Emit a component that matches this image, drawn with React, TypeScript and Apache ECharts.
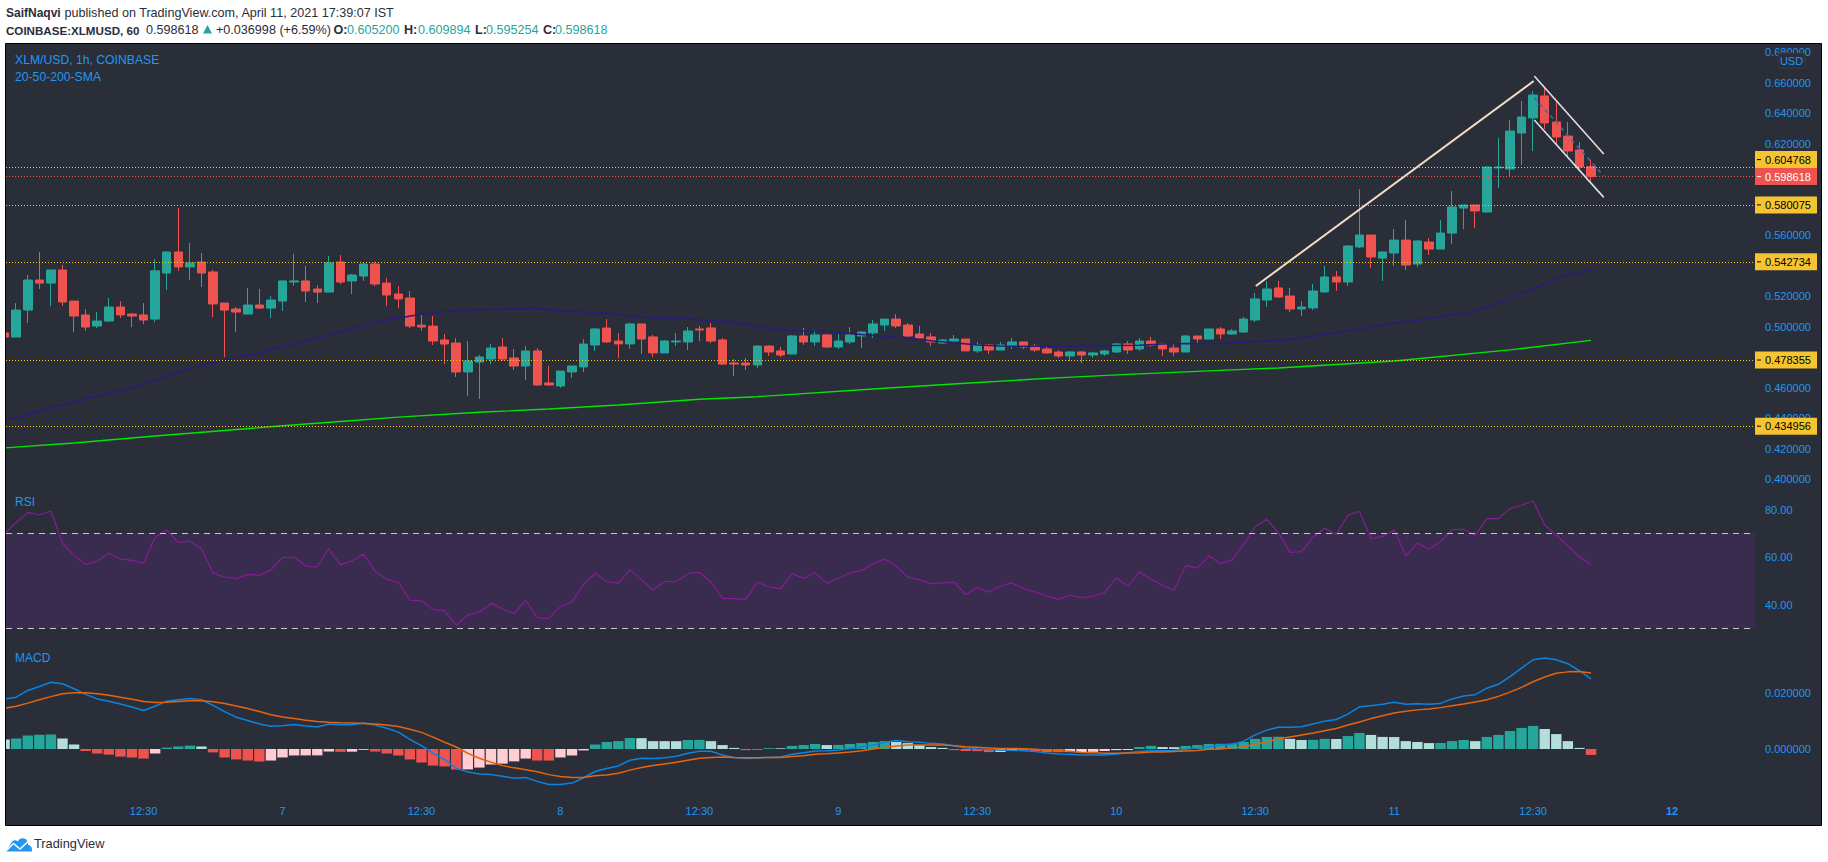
import React, { useEffect, useRef } from "react";
import * as echarts from "echarts";

// [open, close, low, high], one row per hourly bar
const candles = [
[.4961,.4934,.4934,.4961],[.4934,.5111,.4934,.5157],[.5111,.5308,.5026,.5341],[.5308,.5288,.5249,.5492],[.5288,.5374,.5138,.5374],
[.5374,.5164,.5138,.5407],[.5170,.5072,.4967,.5170],[.5079,.5000,.4974,.5118],[.5006,.5039,.4993,.5098],[.5039,.5131,.5033,.5190],
[.5131,.5079,.5059,.5170],[.5085,.5072,.5000,.5092],[.5079,.5046,.5019,.5157],[.5052,.5368,.5033,.5446],[.5354,.5492,.5243,.5498],
[.5492,.5394,.5368,.5780],[.5394,.5420,.5308,.5551],[.5426,.5354,.5262,.5485],[.5361,.5151,.5065,.5374],[.5157,.5111,.4803,.5157],
[.5118,.5098,.4967,.5131],[.5085,.5144,.5085,.5256],[.5144,.5124,.5118,.5249],[.5124,.5177,.5059,.5203],[.5170,.5302,.5105,.5302],
[.5295,.5302,.5269,.5479],[.5302,.5236,.5164,.5400],[.5249,.5229,.5157,.5275],[.5229,.5420,.5229,.5466],[.5426,.5295,.5282,.5472],
[.5302,.5341,.5216,.5347],[.5334,.5413,.5302,.5426],[.5413,.5282,.5269,.5426],[.5288,.5210,.5138,.5321],[.5216,.5184,.5124,.5269],
[.5190,.5006,.4993,.5236],[.5012,.5000,.4974,.5085],[.5006,.4908,.4882,.5072],[.4915,.4888,.4757,.4954],[.4895,.4705,.4672,.4928],
[.4705,.4777,.4547,.4908],[.4770,.4803,.4528,.4816],[.4790,.4862,.4757,.4888],[.4869,.4790,.4777,.4928],[.4797,.4744,.4718,.4856],
[.4744,.4843,.4652,.4875],[.4843,.4620,.4613,.4862],[.4633,.4620,.4613,.4744],[.4613,.4711,.4600,.4711],[.4705,.4744,.4666,.4744],
[.4738,.4888,.4705,.4921],[.4882,.4987,.4843,.4993],[.4993,.4902,.4895,.5052],[.4908,.4889,.4797,.4961],[.4889,.5020,.4856,.5026],
[.5020,.4921,.4823,.5020],[.4935,.4830,.4803,.4948],[.4830,.4908,.4830,.4915],[.4902,.4908,.4875,.4961],[.4902,.4974,.4849,.5000],
[.4987,.4980,.4908,.5007],[.4994,.4908,.4895,.5026],[.4915,.4757,.4751,.4928],[.4764,.4757,.4679,.4790],[.4764,.4751,.4718,.4797],
[.4751,.4875,.4731,.4882],[.4875,.4836,.4810,.4882],[.4843,.4816,.4803,.4869],[.4823,.4941,.4823,.4948],[.4941,.4902,.4882,.4994],
[.4902,.4948,.4875,.4980],[.4948,.4869,.4862,.4954],[.4869,.4908,.4856,.4954],[.4902,.4948,.4889,.5000],[.4941,.4967,.4862,.4974],
[.4961,.5020,.4928,.5046],[.5013,.5052,.4974,.5052],[.5052,.5007,.4994,.5085],[.5013,.4941,.4928,.5026],[.4954,.4928,.4921,.5007],
[.4935,.4902,.4875,.4961],[.4895,.4915,.4889,.4921],[.4908,.4921,.4902,.4948],[.4921,.4843,.4843,.4921],[.4843,.4882,.4830,.4902],
[.4882,.4849,.4823,.4889],[.4849,.4882,.4849,.4902],[.4875,.4902,.4856,.4928],[.4902,.4869,.4856,.4902],[.4875,.4849,.4836,.4889],
[.4856,.4830,.4823,.4869],[.4836,.4810,.4797,.4849],[.4810,.4836,.4777,.4843],[.4836,.4816,.4764,.4843],[.4816,.4830,.4797,.4836],
[.4823,.4843,.4810,.4849],[.4836,.4889,.4830,.4895],[.4889,.4849,.4823,.4908],[.4856,.4908,.4843,.4928],[.4908,.4882,.4869,.4935],
[.4889,.4856,.4810,.4889],[.4862,.4836,.4810,.4889],[.4836,.4941,.4836,.4948],[.4941,.4921,.4889,.4941],[.4921,.4987,.4921,.4987],
[.4987,.4954,.4921,.5000],[.4954,.4974,.4948,.4987],[.4967,.5052,.4961,.5065],[.5046,.5184,.5033,.5223],[.5177,.5249,.5131,.5302],
[.5256,.5197,.5190,.5302],[.5203,.5118,.5098,.5256],[.5118,.5131,.5072,.5170],[.5125,.5236,.5111,.5282],[.5230,.5328,.5223,.5400],
[.5328,.5295,.5236,.5367],[.5295,.5531,.5269,.5538],[.5525,.5603,.5518,.5905],[.5603,.5459,.5387,.5603],[.5452,.5492,.5302,.5492],
[.5485,.5570,.5400,.5643],[.5570,.5406,.5374,.5702],[.5413,.5564,.5393,.5570],[.5557,.5511,.5472,.5583],[.5511,.5616,.5511,.5702],
[.5616,.5787,.5544,.5892],[.5780,.5800,.5643,.5800],[.5800,.5761,.5649,.5800],[.5754,.6049,.5754,.6056],[.6043,.6049,.5911,.6239],
[.6036,.6285,.5990,.6357],[.6272,.6377,.6062,.6482],[.6371,.6521,.6154,.6547],[.6515,.6338,.6298,.6567],[.6344,.6246,.6200,.6475],
[.6252,.6154,.6108,.6344],[.6161,.6049,.6036,.6213],[.6052,.598618,.5953,.6099],
];

// [bar, value] readings of the moving averages
const sma50 = [[0,.4390],[2,.4423],[4,.4471],[6,.4510],[8,.4548],[10,.4583],[12,.4624],[14,.4679],[16,.4727],[18,.4766],[20,.4799],[22,.4829],[24,.4869],[26,.4908],[28,.4950],[30,.4987],[32,.5035],[34,.5059],[36,.5083],[38,.5100],[40,.5111],[42,.5116],[44,.5118],[46,.5122],[48,.5107],[50,.5098],[52,.5092],[54,.5072],[56,.5057],[58,.5055],[60,.5048],[62,.5042],[64,.5018],[66,.4994],[68,.4976],[70,.4972],[72,.4965],[74,.4950],[76,.4939],[78,.4928],[80,.4910],[82,.4897],[84,.4882],[86,.4875],[88,.4873],[90,.4873],[92,.4873],[94,.4875],[96,.4878],[98,.4880],[100,.4889],[102,.4891],[104,.4889],[106,.4897],[108,.4904],[110.6,.4915],[115,.4963],[119,.5013],[122,.5044],[126.4,.5096],[129.4,.5166],[131.7,.5243],[135,.5341],[137,.5374]];
const sma200 = [[0,.4207],[6,.4239],[13,.4285],[24,.4352],[29,.4380],[34,.4409],[41,.4441],[47,.4462],[53,.4488],[60,.4526],[65,.4543],[76,.4598],[83,.4631],[90,.4663],[97,.4689],[107,.4722],[110,.4731],[120,.4777],[130,.4850],[137,.4912]];

// Hand-drawn lines
const riseTrend = [[108.05,.5269],[132.05,.6613]];
const channelTop = [[132.1,.6646],[138.1,.6134]];
const channelBottom = [[132.1,.6357],[138.1,.5850]];
const channelMiddle = [[132.1,.6504],[138.1,.5990]];

const lastPrice = 0.598618;
const supportLevels = [0.604768, 0.580075, 0.542734, 0.478355, 0.434956];
const priceTicks = [.68,.66,.64,.62,.56,.52,.50,.46,.44,.42,.40];

const rsi = [70,74.5,78.8,77.7,79.4,65.8,60.7,56.9,58.2,61.6,59.1,58.6,57.4,68.3,71.4,66.1,66.8,63.4,53.3,51.6,50.9,52.7,52.3,54.6,59.8,59.9,56.2,55.8,63.5,56.7,58.4,61.2,54.0,50.6,49.4,41.8,41.6,37.9,37.3,31.3,35.5,36.9,40.5,38.1,36.3,41.8,34.4,34.2,39.1,41.1,48.5,53.2,49.6,49.0,54.6,50.4,46.1,49.8,49.6,53.0,53.6,49.5,42.6,42.5,42.2,49.4,47.5,46.6,53.0,51.1,53.4,48.9,51.1,53.3,54.3,57.2,59.1,56.2,51.6,50.5,48.8,49.1,49.5,44.2,47.1,45.2,47.8,49.1,46.7,45.3,43.6,42.2,44.0,42.9,43.5,45.0,51.2,47.7,53.7,50.8,48.1,46.0,56.5,55.3,60.5,57.2,58.8,65.5,72.8,75.9,70.3,62.0,62.3,68.3,72.1,69.6,77.6,79.3,67.8,68.7,71.4,60.5,65.9,63.3,66.6,71.5,71.7,69.2,76.2,76.2,80.4,81.8,83.6,73.5,69.2,64.7,60.0,56.9];
const rsiTicks = [80, 60, 40];
const rsiBand = [30, 70];

const macd = [.0177,.0184,.0208,.0222,.0237,.0232,.0214,.0194,.0178,.0170,.0160,.0149,.0137,.0152,.0170,.0175,.0179,.0175,.0155,.0133,.0113,.0101,.0089,.0081,.0083,.0087,.0082,.0078,.0089,.0086,.0086,.0092,.0085,.0074,.0060,.0034,.0012,-.0015,-.0038,-.0068,-.0082,-.0089,-.0091,-.0097,-.0104,-.0101,-.0115,-.0126,-.0126,-.0121,-.0102,-.0080,-.0069,-.0060,-.0040,-.0033,-.0034,-.0031,-.0026,-.0015,-.0008,-.0008,-.0021,-.0030,-.0034,-.0032,-.0030,-.0028,-.0019,-.0013,-.0007,-.0006,-.0004,.0002,.0008,.0014,.0024,.0030,.0026,.0024,.0020,.0018,.0011,.0004,0,-.0002,-.0004,-.0004,-.0006,-.0009,-.0014,-.0018,-.0019,-.0021,-.0021,-.0021,-.0018,-.0013,-.0009,-.0006,-.0006,-.0005,-.0001,.0004,.0008,.0014,.0017,.0028,.0050,.0067,.0077,.0077,.0079,.0089,.0099,.0105,.0124,.0150,.0154,.0159,.0166,.0159,.0161,.0159,.0162,.0178,.0188,.0193,.0216,.0230,.0257,.0287,.0317,.0323,.0317,.0303,.0278,.0249];
const macdSignal = [.0145,.0152,.0163,.0175,.0186,.0196,.0200,.0200,.0196,.0191,.0184,.0177,.0169,.0165,.0166,.0169,.0171,.0171,.0168,.0162,.0153,.0144,.0133,.0122,.0114,.0108,.0102,.0098,.0095,.0093,.0092,.0091,.0089,.0085,.0080,.0070,.0059,.0042,.0024,.0007,-.0015,-.0033,-.0047,-.0059,-.0067,-.0074,-.0081,-.0091,-.0098,-.0101,-.0101,-.0095,-.0092,-.0086,-.0075,-.0066,-.0059,-.0053,-.0047,-.0040,-.0033,-.0030,-.0028,-.0030,-.0031,-.0031,-.0030,-.0030,-.0027,-.0024,-.0019,-.0017,-.0014,-.0011,-.0006,0,.0006,.0011,.0014,.0014,.0014,.0014,.0012,.0008,.0006,.0004,.0002,.0002,.0001,-.0001,-.0004,-.0006,-.0008,-.0012,-.0013,-.0015,-.0015,-.0014,-.0013,-.0011,-.0011,-.0009,-.0007,-.0005,-.0001,0,.0004,.0008,.0017,.0026,.0036,.0043,.0050,.0057,.0065,.0073,.0085,.0096,.0108,.0118,.0128,.0134,.0139,.0142,.0147,.0154,.0160,.0167,.0175,.0187,.0202,.0219,.0239,.0256,.0269,.0274,.0275,.0270];
const macdHist = [.0034,.0037,.0048,.0051,.00515,.0037,.0016,-.0007,-.0016,-.0020,-.0027,-.0030,-.0034,-.0016,.0005,.0009,.0012,.0009,-.0012,-.0030,-.0037,-.0041,-.0044,-.0041,-.0030,-.0023,-.00228,-.00226,-.0009,-.0010,-.00095,-.0003,-.0009,-.0016,-.0023,-.0037,-.0048,-.0059,-.0062,-.0073,-.00725,-.0066,-.0055,-.0052,-.0044,-.0034,-.0041,-.00411,-.0030,-.0023,-.0005,.0016,.0025,.0028,.0039,.00385,.0028,.00279,.00278,.0032,.00325,.0028,.0014,.0004,-.0004,-.00015,.0003,.00025,.0011,.0014,.0018,.0014,.00145,.0018,.0021,.0025,.0028,.0025,.0021,.0014,.0007,.0004,-.0004,-.0007,-.00075,-.0011,-.00105,-.0004,-.00045,-.0007,-.0011,-.00115,-.0011,-.00105,-.001,-.0007,-.0004,-.00035,.0007,.0011,.0007,.00065,.0011,.0014,.0018,.00185,.0019,.0025,.0036,.0043,.00435,.0036,.0032,.00325,.0036,.00355,.0046,.0057,.0050,.0043,.00425,.0028,.0025,.0021,.00215,.0028,.0032,.0028,.0043,.0050,.0064,.0075,.0082,.0071,.0053,.0028,.0004,-.0021];
const macdTicks = [0.02, 0];

const timeTicks = [12,24,36,48,60,72,84,96,108,120,132,144];
const timeLabels = ["12:30","7","12:30","8","12:30","9","12:30","10","12:30","11","12:30","12"];

const FONT = '"Liberation Sans", Arial, sans-serif';
const BLUE = "#2196f3";
const TEAL = "#26a69a";
const RED = "#ef5350";
const INK = "#2a2e39";
const YELLOW = "#f6c431";
const PANEL = "#2a2e39";

// x pixel = 4.6 + 11.58 * bar, panel plot runs from x=6 to x=1755
const X_MIN = 0.1209;
const X_MAX = 151.16;
const TAG_H = 17;
const TAG_W = 62;

echarts.graphic.registerShape("tvCloud", echarts.graphic.extendPath(
  "M0 14.5 L5.5 5.5 C7 3 9.8 2.6 11.8 4.6 C13.2 0.6 19 0 21 3.6 C22.2 5.4 22.3 6.6 22 7.8 C24.8 8 26.4 11 26 14.5 Z", {}));

function hdr(text: string, x: number, y: number, opts: any = {}) {
  return { type: "text", z: 5, style: { text, x, y, fill: INK, fontFamily: FONT, fontSize: 12.6, textVerticalAlign: "middle", ...opts } };
}

function buildOption() {
  const line = (data: any, color: string, width: number, extra: any = {}) => ({
    type: "line", data, symbol: "none", silent: true, lineStyle: { color, width, ...(extra.lineStyle || {}) },
    xAxisIndex: extra.grid ?? 0, yAxisIndex: extra.grid ?? 0, z: extra.z ?? 4,
    ...(extra.markLine ? { markLine: extra.markLine } : {}), ...(extra.markArea ? { markArea: extra.markArea } : {}),
  });
  const xBase = { type: "value", min: X_MIN, max: X_MAX, splitLine: { show: false }, axisLine: { show: false }, axisTick: { show: false } };
  const yBase = (min: number, max: number, ticks: number[], digits: number, pad: number[] = [0, 0, 0, 0]) => ({
    type: "value", position: "right", min, max, splitLine: { show: false }, axisLine: { show: false }, axisTick: { show: false },
    axisLabel: { customValues: ticks, color: BLUE, fontFamily: FONT, fontSize: 11, margin: 10, padding: pad, formatter: (v: number) => v.toFixed(digits) },
  });
  return {
    animation: false,
    backgroundColor: "#ffffff",
    grid: [
      { left: 6, top: 44, width: 1749, height: 446 },
      { left: 6, top: 490, width: 1749, height: 160 },
      { left: 6, top: 650, width: 1749, height: 145 },
    ],
    xAxis: [
      { ...xBase, gridIndex: 0, axisLabel: { show: false } },
      { ...xBase, gridIndex: 1, axisLabel: { show: false } },
      { ...xBase, gridIndex: 2, axisLabel: {
        customValues: timeTicks, color: BLUE, fontFamily: FONT, fontSize: 11, margin: 10,
        formatter: (v: number) => { const s = timeLabels[timeTicks.indexOf(v)]; return s === "12" ? "{b|12}" : s; },
        rich: { b: { color: BLUE, fontFamily: FONT, fontSize: 11, fontWeight: "bold" } },
      } },
    ],
    yAxis: [
      { ...yBase(0.39311, 0.68557, priceTicks, 6), gridIndex: 0 },
      { ...yBase(20.86, 88.23, rsiTicks, 2), gridIndex: 1 },
      { ...yBase(-0.01634, 0.03517, macdTicks, 6, [0, 0, 3, 0]), gridIndex: 2 },
    ],
    series: [
      {
        type: "candlestick", xAxisIndex: 0, yAxisIndex: 0, barWidth: 9, silent: true, z: 3,
        data: candles.map((c, i) => [i, ...c]),
        itemStyle: { color: TEAL, color0: RED, borderColor: TEAL, borderColor0: RED, borderWidth: 1 },
        markLine: {
          silent: true, symbol: "none", precision: 6, label: { show: false }, animation: false,
          data: [
            ...supportLevels.map((v) => ({ yAxis: v, lineStyle: { color: "#f5c816", type: [1, 2], width: 1 } })),
            { yAxis: lastPrice, lineStyle: { color: RED, type: [1, 2], width: 1 } },
          ],
        },
      },
      line(sma50, "#2b1a7c", 1.5),
      line(sma200, "#00e600", 1.4),
      line(riseTrend, "#f3dcc4", 2, { z: 6 }),
      line(channelTop, "#dfe0e4", 1.6, { z: 6 }),
      line(channelBottom, "#dfe0e4", 1.6, { z: 6 }),
      line(channelMiddle, "#2f6fb5", 1.6, { z: 6, lineStyle: { type: [4, 4] } }),
      {
        type: "custom", coordinateSystem: "cartesian2d", xAxisIndex: 0, yAxisIndex: 0, z: 20, silent: true, clip: false,
        data: [...supportLevels, lastPrice].map((v) => [X_MAX, v]),
        encode: { x: 0, y: 1 },
        renderItem: (_p: any, api: any) => {
          const v = api.value(1);
          const [x, trueY] = api.coord([X_MAX, v]);
          const lastY = api.coord([X_MAX, lastPrice])[1];
          const isLast = v === lastPrice;
          let y = trueY;
          if (!isLast && v > lastPrice && y + TAG_H / 2 > lastY - TAG_H / 2) y = lastY - TAG_H;
          const fg = isLast ? "#ffffff" : "#000000";
          return {
            type: "group",
            children: [
              { type: "rect", shape: { x, y: y - TAG_H / 2, width: TAG_W, height: TAG_H }, style: { fill: isLast ? RED : YELLOW } },
              { type: "line", shape: { x1: x + 2, y1: y, x2: x + 6, y2: y }, style: { stroke: fg, lineWidth: 1 } },
              { type: "text", style: { text: v.toFixed(6), x: x + 10, y, fill: fg, fontFamily: FONT, fontSize: 11, textVerticalAlign: "middle" } },
            ],
          };
        },
      },
      line(rsi.map((v, i) => [i, v]), "#8a1a99", 1.2, {
        grid: 1,
        markArea: { silent: true, itemStyle: { color: "#392c4e" }, data: [[{ yAxis: rsiBand[0] }, { yAxis: rsiBand[1] }]] },
        markLine: { silent: true, symbol: "none", precision: 2, label: { show: false }, data: rsiBand.map((v) => ({ yAxis: v, lineStyle: { color: "#c9c7ce", type: [6, 5], width: 1 } })) },
      }),
      {
        type: "bar", xAxisIndex: 2, yAxisIndex: 2, barWidth: 10.4, silent: true, z: 2,
        data: macdHist.map((v, i) => [i, v]),
        itemStyle: {
          color: (p: any) => {
            const i = p.dataIndex; const v = macdHist[i];
            const grew = i > 0 && v > macdHist[i - 1];
            if (v >= 0) return grew ? TEAL : "#b2dfdb";
            return grew ? "#ffcdd2" : RED;
          },
        },
      },
      line(macd.map((v, i) => [i, v]), "#0a84e0", 1.5, { grid: 2, z: 4 }),
      line(macdSignal.map((v, i) => [i, v]), "#e8640c", 1.5, { grid: 2, z: 5 }),
    ],
    graphic: [
      { type: "rect", z: -5, shape: { x: 5.5, y: 43.5, width: 1816, height: 782 }, style: { fill: PANEL } },
      { type: "rect", z: 40, shape: { x: 0, y: 44, width: 5.5, height: 782 }, style: { fill: "#ffffff" } },
      { type: "rect", z: 41, shape: { x: 5.5, y: 43.5, width: 1816, height: 782 }, style: { fill: "none", stroke: "#000000", lineWidth: 1 } },
      hdr("SaifNaqvi", 6, 13, { fontWeight: "bold", fontSize: 12 }),
      hdr("published on TradingView.com, April 11, 2021 17:39:07 IST", 64.5, 13),
      hdr("COINBASE:XLMUSD, 60", 6, 30, { fontWeight: "bold", fontSize: 11.6 }),
      hdr("0.598618", 146, 30),
      { type: "polygon", z: 5, shape: { points: [[203, 33.5], [212, 33.5], [207.5, 25]] }, style: { fill: TEAL } },
      hdr("+0.036998 (+6.59%)", 216, 30),
      hdr("O:", 333.5, 30, { fontWeight: "bold" }), hdr("0.605200", 347, 30, { fill: TEAL }),
      hdr("H:", 404, 30, { fontWeight: "bold" }), hdr("0.609894", 418, 30, { fill: TEAL }),
      hdr("L:", 475, 30, { fontWeight: "bold" }), hdr("0.595254", 486, 30, { fill: TEAL }),
      hdr("C:", 543, 30, { fontWeight: "bold" }), hdr("0.598618", 555, 30, { fill: TEAL }),
      { type: "text", z: 5, style: { text: "XLM/USD, 1h, COINBASE", x: 15, y: 60, fill: BLUE, fontFamily: FONT, fontSize: 12.2, textVerticalAlign: "middle" } },
      { type: "text", z: 5, style: { text: "20-50-200-SMA", x: 15, y: 77, fill: BLUE, fontFamily: FONT, fontSize: 12.2, textVerticalAlign: "middle" } },
      { type: "text", z: 5, style: { text: "RSI", x: 15, y: 502, fill: BLUE, fontFamily: FONT, fontSize: 12, textVerticalAlign: "middle" } },
      { type: "text", z: 5, style: { text: "MACD", x: 15, y: 658, fill: BLUE, fontFamily: FONT, fontSize: 12, textVerticalAlign: "middle" } },
      { type: "rect", z: 30, shape: { x: 1778, y: 53, width: 27, height: 15, r: 3 }, style: { fill: PANEL, stroke: "#363a45", lineWidth: 1 } },
      { type: "text", z: 31, style: { text: "USD", x: 1791.5, y: 60.5, fill: BLUE, fontFamily: FONT, fontSize: 11, textAlign: "center", textVerticalAlign: "middle" } },
      { type: "tvCloud", z: 5, x: 6, y: 837, style: { fill: BLUE } },
      { type: "polyline", z: 6, shape: { points: [[6, 851], [13.5, 843.5], [20, 849], [27.5, 842], [32, 846]] }, style: { stroke: "#ffffff", fill: "none", lineWidth: 1.4 } },
      { type: "text", z: 5, style: { text: "TradingView", x: 34, y: 843.5, fill: INK, fontFamily: FONT, fontSize: 12.8, textVerticalAlign: "middle" } },
    ],
  };
}

export default function App() {
  const ref = useRef<HTMLDivElement>(null);
  useEffect(() => {
    const chart = echarts.init(ref.current!, undefined, { renderer: "svg" });
    chart.setOption(buildOption() as any);
    return () => chart.dispose();
  }, []);
  return <div ref={ref} style={{ position: "fixed", left: 0, top: 0, width: 1828, height: 862, background: "#fff" }} />;
}
